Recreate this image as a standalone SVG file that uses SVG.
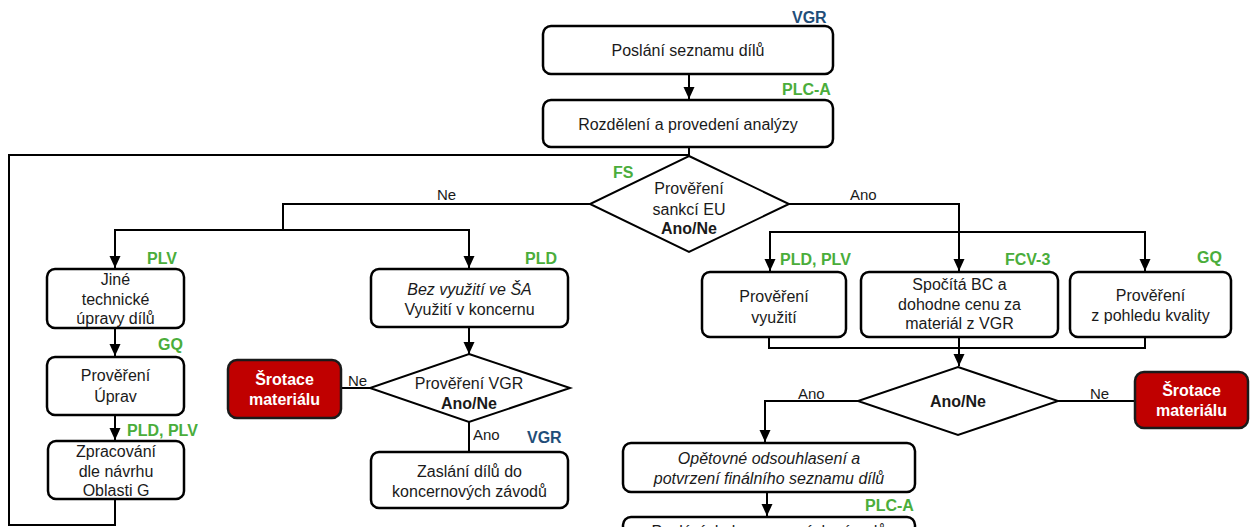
<svg xmlns="http://www.w3.org/2000/svg" width="1258" height="527" viewBox="0 0 1258 527">
<defs>
<marker id="arr" viewBox="0 0 12 12" refX="12" refY="6" markerWidth="12" markerHeight="12" markerUnits="userSpaceOnUse" orient="auto">
<path d="M0,0.5 L12,6 L0,11.5 z" fill="#000"/>
</marker>
<style>
.box{fill:#fff;stroke:#000;stroke-width:2.5}
.red{fill:#c00000;stroke:#1a1a1a;stroke-width:2.5}
.dia{fill:#fff;stroke:#000;stroke-width:2}
.t{font-family:"Liberation Sans",Arial,sans-serif;font-size:16px;fill:#1a1a1a;text-anchor:middle;dominant-baseline:central}
.i{font-style:italic}
.b{font-weight:bold}
.w{fill:#fff;font-weight:bold}
.g{font-family:"Liberation Sans",Arial,sans-serif;font-size:16px;font-weight:bold;fill:#4aad3b;dominant-baseline:central}
.v{font-family:"Liberation Sans",Arial,sans-serif;font-size:16px;font-weight:bold;fill:#1f4e79;dominant-baseline:central}
.l{font-family:"Liberation Sans",Arial,sans-serif;font-size:15px;fill:#1a1a1a;dominant-baseline:central}
.c{fill:none;stroke:#000;stroke-width:2}
.ca{fill:none;stroke:#000;stroke-width:2;marker-end:url(#arr)}
</style>
</defs>
<rect width="1258" height="527" fill="#fff"/>

<g id="connectors">
<path class="ca" d="M689,74 V99"/>
<path class="ca" d="M689,147 V172"/>
<path class="c" d="M115,499 V525 H9 V155 H689"/>
<path class="ca" d="M590,204 H283 V230 H115 V268"/>
<path class="ca" d="M283,230 H469 V268"/>
<path class="ca" d="M789,204 H959 V271"/>
<path class="ca" d="M959,232 H770 V271"/>
<path class="ca" d="M959,232 H1145 V271"/>
<path class="ca" d="M115,328 V356"/>
<path class="ca" d="M115,415 V440"/>
<path class="ca" d="M469,327 V354"/>
<path class="c" d="M370,388 H341"/>
<path class="c" d="M469,422 V452"/>
<path class="c" d="M769,332 V348 H1145 V330"/>
<path class="ca" d="M959,326 V366"/>
<path class="c" d="M1058,401 H1135"/>
<path class="ca" d="M858,401 H765 V442"/>
<path class="ca" d="M767,492 V516"/>
<text class="l" x="437" y="194">Ne</text>
<text class="l" x="850" y="194">Ano</text>
<text class="l" x="348" y="380">Ne</text>
<text class="l" x="473" y="434">Ano</text>
<text class="l" x="798" y="393">Ano</text>
<text class="l" x="1090" y="393">Ne</text>
</g>

<g id="n1">
<rect class="box" x="543" y="26" width="290" height="48" rx="8"/>
<text class="t" x="688" y="50">Poslání seznamu dílů</text>
<text class="v" x="792" y="17">VGR</text>
</g>

<g id="n2">
<rect class="box" x="543" y="100" width="290" height="47" rx="8"/>
<text class="t" x="688" y="124">Rozdělení a provedení analýzy</text>
<text class="g" x="782" y="89">PLC-A</text>
</g>

<g id="d1">
<polygon class="dia" points="689,156 789,204 689,252 590,204"/>
<text class="t" x="689" y="188">Prověření</text>
<text class="t" x="689" y="209">sankcí EU</text>
<text class="t b" x="689" y="228">Ano/Ne</text>
<text class="g" x="613" y="172">FS</text>
</g>

<g id="n3">
<rect class="box" x="47" y="269" width="137" height="59" rx="8"/>
<text class="t" x="115.5" y="279">Jiné</text>
<text class="t" x="115.5" y="299">technické</text>
<text class="t" x="115.5" y="318">úpravy dílů</text>
<text class="g" x="147" y="258">PLV</text>
</g>

<g id="n4">
<rect class="box" x="47" y="357" width="137" height="58" rx="8"/>
<text class="t" x="115.5" y="375">Prověření</text>
<text class="t" x="115.5" y="396">Úprav</text>
<text class="g" x="158" y="344">GQ</text>
</g>

<g id="n5">
<rect class="box" x="48" y="441" width="136" height="58" rx="8"/>
<text class="t" x="116" y="451">Zpracování</text>
<text class="t" x="116" y="471">dle návrhu</text>
<text class="t" x="116" y="490">Oblasti G</text>
<text class="g" x="127" y="430">PLD, PLV</text>
</g>

<g id="n6">
<rect class="box" x="371" y="269" width="197" height="58" rx="8"/>
<text class="t i" x="469.5" y="289">Bez využití ve ŠA</text>
<text class="t" x="469.5" y="309">Využití v koncernu</text>
<text class="g" x="525" y="258">PLD</text>
</g>

<g id="d2">
<polygon class="dia" points="469,354 570,388 469,422 370,388"/>
<text class="t" x="469" y="383">Prověření VGR</text>
<text class="t b" x="469" y="403">Ano/Ne</text>
</g>

<g id="n7">
<rect class="red" x="228" y="360" width="113" height="58" rx="9"/>
<text class="t w" x="284.5" y="379">Šrotace</text>
<text class="t w" x="284.5" y="399">materiálu</text>
</g>

<g id="n8">
<rect class="box" x="371" y="452" width="197" height="56" rx="8"/>
<text class="t" x="469.5" y="471">Zaslání dílů do</text>
<text class="t" x="469.5" y="491">koncernových závodů</text>
<text class="v" x="527" y="437">VGR</text>
</g>

<g id="n9">
<rect class="box" x="702" y="272" width="144" height="65" rx="8"/>
<text class="t" x="774" y="296">Prověření</text>
<text class="t" x="774" y="317">využití</text>
<text class="g" x="780" y="259">PLD, PLV</text>
</g>

<g id="n10">
<rect class="box" x="861" y="272" width="197" height="65" rx="8"/>
<text class="t" x="959.5" y="284">Spočítá BC a</text>
<text class="t" x="959.5" y="304">dohodne cenu za</text>
<text class="t" x="959.5" y="323">materiál z VGR</text>
<text class="g" x="1005" y="259">FCV-3</text>
</g>

<g id="n11">
<rect class="box" x="1070" y="272" width="161" height="65" rx="8"/>
<text class="t" x="1150.5" y="295">Prověření</text>
<text class="t" x="1150.5" y="315">z pohledu kvality</text>
<text class="g" x="1197" y="257">GQ</text>
</g>

<g id="d3">
<polygon class="dia" points="958,367 1058,401 958,435 858,401"/>
<text class="t b" x="958" y="401">Ano/Ne</text>
</g>

<g id="n12">
<rect class="red" x="1135" y="372" width="113" height="56" rx="9"/>
<text class="t w" x="1191.5" y="390">Šrotace</text>
<text class="t w" x="1191.5" y="410">materiálu</text>
</g>

<g id="n13">
<rect class="box" x="623" y="443" width="292" height="49" rx="8"/>
<text class="t i" x="769" y="458">Opětovné odsouhlasení a</text>
<text class="t i" x="769" y="478">potvrzení finálního seznamu dílů</text>
</g>

<g id="n14">
<rect class="box" x="623" y="517" width="292" height="40" rx="8"/>
<text class="t" x="769" y="531">Poslání do koncernových závodů</text>
<text class="g" x="865" y="505">PLC-A</text>
</g>
</svg>
